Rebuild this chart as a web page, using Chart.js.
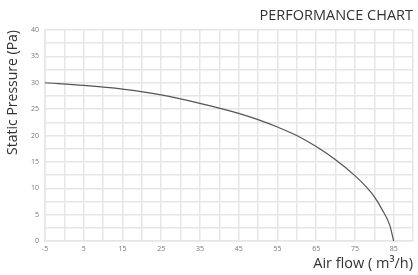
<!DOCTYPE html>
<html>
<head>
<meta charset="utf-8">
<script src="https://cdn.jsdelivr.net/npm/chart.js@4/dist/chart.umd.min.js"></script>
<style>
  html, body { margin: 0; padding: 0; background: #fff; }
  #chart { display: block; }
</style>
</head>
<body>
<canvas id="chart" width="418" height="275"></canvas>
<script>
// fan curve
const airFlow = [-5, 5, 15, 25, 35, 45, 50, 55, 60, 65, 70, 75, 78, 80, 82, 84, 85];
const pressure = [30, 29.5, 28.8, 27.7, 26.1, 24.2, 23, 21.6, 20, 17.9, 15.4, 12.4, 10.2, 8.4, 6.0, 3.0, 0];

const chartTitle = 'PERFORMANCE CHART';
const xTitle = 'Air flow ( m³/h)';
const yTitle = 'Static Pressure (Pa)';

const points = airFlow.map((x, i) => ({ x, y: pressure[i] }));

const gridColor = '#e6e6e6';
const tickFont = { family: 'Open Sans', size: 7 };

new Chart(document.getElementById('chart'), {
    type: 'scatter',
    data: {
        datasets: [{
            data: points,
            showLine: true,
            borderColor: '#555',
            borderWidth: 1.2,
            pointRadius: 0,
            cubicInterpolationMode: 'monotone',
            fill: false
        }]
    },
    options: {
        responsive: false,
        animation: false,
        layout: { padding: { left: 0, right: 5, top: 0, bottom: 0 } },
        plugins: {
            legend: { display: false },
            tooltip: { enabled: false },
            title: {
                display: true,
                text: chartTitle,
                align: 'end',
                color: '#333',
                font: { family: 'Open Sans', size: 14.5, weight: 'normal' },
                padding: { top: 7, bottom: 5.6 }
            }
        },
        scales: {
            x: {
                type: 'linear',
                min: -5,
                max: 90,
                afterFit: s => { s.height = 34; },
                grid: { color: gridColor, lineWidth: 1.5, drawTicks: false },
                border: { color: gridColor, width: 1.5 },
                ticks: {
                    stepSize: 5,
                    autoSkip: false,
                    maxRotation: 0,
                    padding: 4,
                    color: '#777',
                    font: tickFont,
                    callback: v => ((v + 5) % 10 === 0 && v <= 85) ? v : ''
                },
                title: {
                    display: true,
                    text: xTitle,
                    align: 'end',
                    color: '#333',
                    font: { family: 'Open Sans', size: 14.5 },
                    padding: { top: 0, bottom: 2 }
                }
            },
            y: {
                min: 0,
                max: 40,
                afterFit: s => { s.width = 45; },
                grid: { color: gridColor, lineWidth: 1.5, drawTicks: false },
                border: { color: gridColor, width: 1.5 },
                ticks: {
                    stepSize: 2.5,
                    autoSkip: false,
                    padding: 6,
                    color: '#777',
                    font: tickFont,
                    callback: v => v % 5 === 0 ? v : ''
                },
                title: {
                    display: true,
                    text: yTitle,
                    align: 'end',
                    color: '#333',
                    font: { family: 'Open Sans', size: 14 },
                    padding: { top: 5, bottom: 0 }
                }
            }
        }
    }
});
</script>
</body>
</html>
